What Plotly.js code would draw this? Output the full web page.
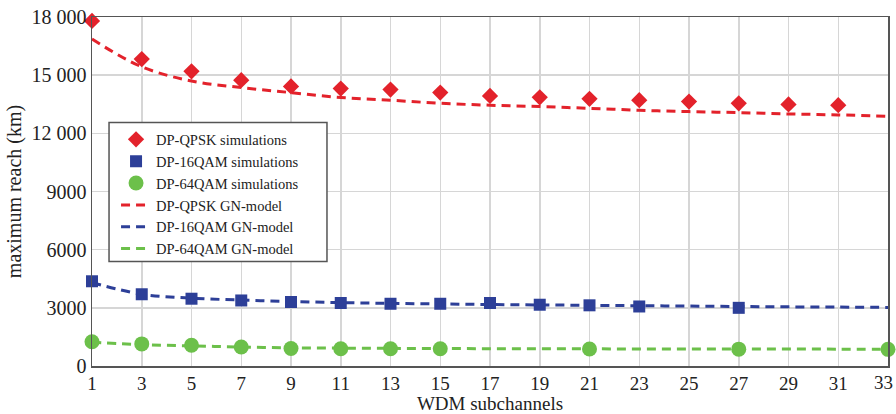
<!DOCTYPE html>
<html><head><meta charset="utf-8">
<script src="https://cdn.plot.ly/plotly-3.0.1.min.js"></script>
<style>html,body{margin:0;padding:0;background:#fff;}#chart{width:896px;height:414px;}</style>
</head><body><div id="chart"></div>
<script>
var subchannels = [1,3,5,7,9,11,13,15,17,19,21,23,25,27,29,31,33];
var qpskSimX = [1,3,5,7,9,11,13,15,17,19,21,23,25,27,29,31];
var qpskSim = [17800,15830,15200,14740,14420,14310,14260,14100,13930,13860,13780,13710,13640,13550,13490,13450];
var qpskGN = [16860,15430,14700,14360,14100,13850,13710,13550,13450,13380,13290,13190,13120,13070,13000,12950,12880];
var qam16SimX = [1,3,5,7,9,11,13,15,17,19,21,23,27];
var qam16Sim = [4370,3700,3470,3380,3300,3250,3210,3210,3250,3160,3130,3070,3000];
var qam16GN = [4300,3700,3500,3400,3330,3270,3230,3200,3170,3150,3130,3110,3090,3070,3050,3040,3020];
var qam64SimX = [1,3,5,7,9,11,13,15,21,27,33];
var qam64Sim = [1250,1140,1070,980,900,890,890,890,880,870,860];
var qam64GN = [1230,1100,1040,980,940,920,910,900,895,890,885,880,878,875,872,870,868];
var yTicks = [0,3000,6000,9000,12000,15000,18000];
var yTickText = ["0","3000","6000","9000","12 000","15 000","18 000"];

var red = "#e3222b", blue = "#2d3f98", green = "#6cc04a";
var dashPat = "9px,6px";
var lastX = subchannels[subchannels.length - 1];
var data = [
  {x: subchannels, y: qpskGN, name: "DP-QPSK GN-model", mode: "lines", line: {color: red, width: 3, dash: dashPat, shape: "spline"}, legendrank: 4},
  {x: subchannels, y: qam16GN, name: "DP-16QAM GN-model", mode: "lines", line: {color: blue, width: 3, dash: dashPat, shape: "spline"}, legendrank: 5},
  {x: subchannels, y: qam64GN, name: "DP-64QAM GN-model", mode: "lines", line: {color: green, width: 3, dash: dashPat, shape: "spline"}, legendrank: 6},
  {x: qpskSimX, y: qpskSim, name: "DP-QPSK simulations", mode: "markers", marker: {symbol: "diamond", size: 12.5, color: red}, cliponaxis: false, legendrank: 1},
  {x: qam16SimX, y: qam16Sim, name: "DP-16QAM simulations", mode: "markers", marker: {symbol: "square", size: 12, color: blue}, cliponaxis: false, legendrank: 2},
  {x: qam64SimX, y: qam64Sim, name: "DP-64QAM simulations", mode: "markers", marker: {symbol: "circle", size: 15, color: green}, cliponaxis: false, legendrank: 3}
];
var layout = {
  width: 896, height: 414,
  margin: {l: 92, r: 8, t: 17, b: 48},
  paper_bgcolor: "#fff", plot_bgcolor: "#fff",
  font: {family: "Liberation Serif, Times New Roman, serif", size: 20, color: "#222"},
  showlegend: true,
  legend: {x: 0.0302, y: 0.695, xanchor: "left", yanchor: "top", bgcolor: "rgba(0,0,0,0)", borderwidth: 0, font: {size: 14.5, color: "#222"}, tracegroupgap: 0},
  shapes: [{type: "rect", xref: "paper", yref: "paper", x0: 0.0214, x1: 0.2952, y0: 0.2994, y1: 0.6977, layer: "above", fillcolor: "#fff", line: {color: "#555", width: 1.5}}],
  annotations: [{x: lastX, xref: "x", y: 0, yref: "paper", text: String(lastX), showarrow: false, xanchor: "center", yanchor: "top", xshift: -5, yshift: -4, font: {size: 19, color: "#222"}}],
  xaxis: {range: [1, 33], tickvals: subchannels.slice(0, -1), showgrid: true, gridcolor: "#d6d6d6", gridwidth: 1.5, showline: true, linecolor: "#555", linewidth: 1.5, mirror: true, zeroline: false, ticks: "", ticklen: 0, tickfont: {size: 19},
    title: {text: "WDM subchannels", font: {size: 19}, standoff: 3}},
  yaxis: {range: [0, 18000], tickvals: yTicks, ticktext: yTickText, showgrid: true, gridcolor: "#d6d6d6", gridwidth: 1.5, showline: true, linecolor: "#555", linewidth: 1.5, mirror: true, zeroline: false, ticks: "", ticklen: 0, ticklabeloverflow: "allow",
    title: {text: "maximum reach (km)", font: {size: 20}, standoff: 4}}
};
Plotly.newPlot("chart", data, layout, {staticPlot: true});
</script></body></html>
